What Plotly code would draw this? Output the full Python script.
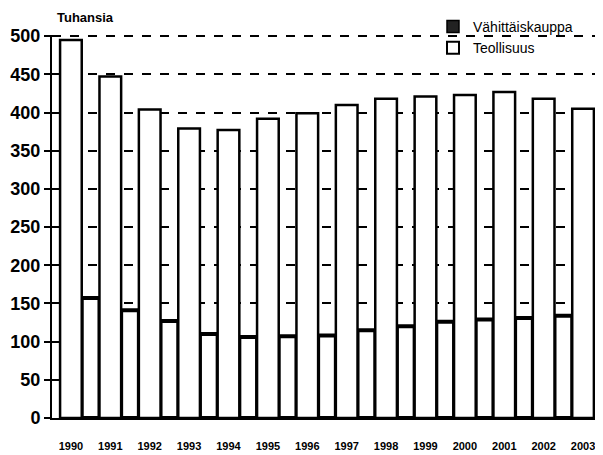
import plotly.graph_objects as go

years = ["1990", "1991", "1992", "1993", "1994", "1995", "1996", "1997",
         "1998", "1999", "2000", "2001", "2002", "2003"]
teollisuus = [495, 447, 404, 379, 377, 392, 399, 410, 418, 421, 423, 427, 418, 405]
vahittaiskauppa = [157, 141, 127, 110, 106, 107, 108, 115, 120, 126, 129, 131, 134, 137]
ytick_vals = [0, 50, 100, 150, 200, 250, 300, 350, 400, 450, 500]

xpos = list(range(len(years)))
FONT = "Liberation Sans"

fig = go.Figure()
# Bars
fig.add_trace(go.Bar(
    x=xpos, y=vahittaiskauppa, name="Vähittäiskauppa", showlegend=False,
    width=0.45, offset=0.275,
    marker=dict(color="white", line=dict(color="black", width=4)),
))
fig.add_trace(go.Bar(
    x=xpos, y=teollisuus, name="Teollisuus", showlegend=False,
    width=0.55, offset=-0.275,
    marker=dict(color="white", line=dict(color="black", width=2.5)),
))
# Legend entries (as in the printed legend)
fig.add_trace(go.Bar(
    x=[None], y=[None], name="Vähittäiskauppa",
    marker=dict(color="#222222", line=dict(color="black", width=1.5)),
))
fig.add_trace(go.Bar(
    x=[None], y=[None], name="Teollisuus",
    marker=dict(color="white", line=dict(color="black", width=2)),
))

W, H = 595, 447          # page body has an 8px margin
L, T, PW, PH = 44, 27, 548, 383

fig.update_layout(
    width=W, height=H,
    margin=dict(l=L, r=W - L - PW, t=T, b=H - T - PH, autoexpand=False),
    paper_bgcolor="white", plot_bgcolor="white",
    barmode="overlay",
    showlegend=True,
    legend=dict(x=(425 - L) / PW, xanchor="left", y=(T + PH - 3) / PH, yanchor="top",
                bgcolor="rgba(0,0,0,0)", traceorder="normal",
                font=dict(family=FONT, size=14, color="black"),
                itemwidth=30, tracegroupgap=0, borderwidth=0),
    font=dict(family=FONT, color="black"),
    xaxis=dict(
        range=[-0.48, 13.43], tickmode="array", tickvals=xpos, ticktext=years,
        showgrid=False, zeroline=False, showline=True, linecolor="black", linewidth=2,
        ticks="", tickfont=dict(family=FONT, size=11, color="black", weight="bold"),
        ticklabelstandoff=17,
    ),
    yaxis=dict(
        range=[0, 501.5], tickmode="array", tickvals=ytick_vals,
        showgrid=True, gridcolor="black", griddash="dash", gridwidth=1.5,
        zeroline=False, showline=True, linecolor="black", linewidth=2,
        ticks="outside", ticklen=6, tickcolor="black", tickwidth=2,
        tickfont=dict(family=FONT, size=18, color="black", weight="bold"),
    ),
    annotations=[dict(text="Tuhansia", x=0.0, y=1.0, xref="paper", yref="paper",
                      xanchor="left", yanchor="bottom", xshift=3, yshift=8,
                      showarrow=False,
                      font=dict(family=FONT, size=13, color="black", weight="bold"))],
)

fig.write_html("out.html")
